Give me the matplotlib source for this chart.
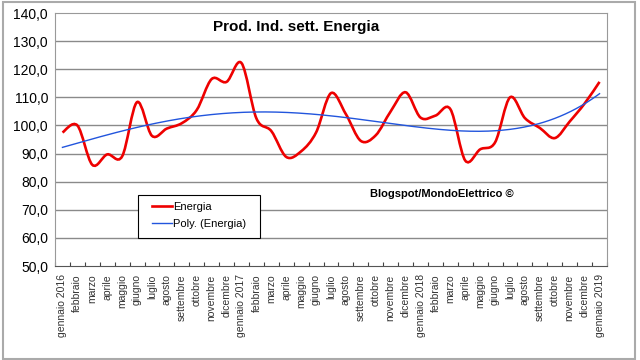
import matplotlib
matplotlib.use("Agg")
import matplotlib.pyplot as plt
import numpy as np
from matplotlib.path import Path
from matplotlib.patches import PathPatch, Rectangle
from matplotlib.lines import Line2D
from matplotlib.ticker import FuncFormatter, FixedLocator

plt.rcParams['font.family'] = ['Liberation Sans', 'DejaVu Sans']

# mesi gen 2016 - gen 2019
mesi = ["gennaio 2016", "febbraio", "marzo", "aprile", "maggio", "giugno",
        "luglio", "agosto", "settembre", "ottobre", "novembre", "dicembre",
        "gennaio 2017", "febbraio", "marzo", "aprile", "maggio", "giugno",
        "luglio", "agosto", "settembre", "ottobre", "novembre", "dicembre",
        "gennaio 2018", "febbraio", "marzo", "aprile", "maggio", "giugno",
        "luglio", "agosto", "settembre", "ottobre", "novembre", "dicembre",
        "gennaio 2019"]
energia = [97.5, 100.0, 86.0, 89.7, 89.0, 108.3, 96.3, 98.9, 100.8, 105.5,
           116.5, 115.5, 122.2, 102.5, 98.0, 88.8, 90.8, 97.5, 111.5, 104.0,
           94.5, 96.5, 105.0, 111.8, 102.8, 103.5, 105.8, 87.5, 91.5, 94.0,
           110.0, 102.6, 99.1, 95.5, 101.4, 107.8, 115.5]
grado_poly = 4

x = np.arange(len(energia))
y = np.array(energia)

fig = plt.figure(figsize=(6.4, 3.6), dpi=100)
ax = fig.add_axes([55/640, 1-266/360, 552/640, 253/360])

# linea smussata tipo excel (bezier per punti)
P = np.column_stack([x, y]).astype(float)
Pe = np.vstack([P[0], P, P[-1]])
verts = [tuple(P[0])]
codes = [Path.MOVETO]
for i in range(len(P) - 1):
    p0, p1, p2, p3 = Pe[i], Pe[i+1], Pe[i+2], Pe[i+3]
    c1 = p1 + (p2 - p0) / 6
    c2 = p2 - (p3 - p1) / 6
    verts += [tuple(c1), tuple(c2), tuple(p2)]
    codes += [Path.CURVE4] * 3
ax.add_patch(PathPatch(Path(verts, codes), facecolor='none', edgecolor='#ee0000', lw=1.9, zorder=3))

# trend polinomiale
coef = np.polyfit(x, y, grado_poly)
xt = np.linspace(0, len(energia)-1, 300)
ax.plot(xt, np.polyval(coef, xt), color='#2255dd', lw=1.0, zorder=4)

ax.set_xlim(-0.5, len(energia)-0.5)
ax.set_ylim(50, 140)
ax.set_yticks(np.arange(50, 141, 10))
ax.yaxis.set_major_formatter(FuncFormatter(lambda v, p: f"{v:.1f}".replace('.', ',')))
ax.tick_params(axis='y', length=0, labelsize=10, pad=5)
for v in range(60, 140, 10):
    ax.axhline(v, color='#8a8a8a', lw=1, zorder=1)

ax.xaxis.set_major_locator(FixedLocator(np.arange(-0.5, len(energia), 1)))
ax.xaxis.set_major_formatter(FuncFormatter(lambda v, p: ""))
ax.xaxis.set_minor_locator(FixedLocator(x))
ax.set_xticklabels(mesi, minor=True, rotation=90, fontsize=7.5, color='#333333')
ax.tick_params(axis='x', which='major', direction='in', length=3, color='#444444')
ax.tick_params(axis='x', which='minor', length=0, pad=6)

for s in ['left', 'top', 'right']:
    ax.spines[s].set_color('#999999')
ax.spines['bottom'].set_color('#555555')

ax.text(0.436, 0.945, "Prod. Ind. sett. Energia", transform=ax.transAxes,
        ha='center', va='center', fontsize=11, fontweight='bold')
ax.text(0.70, 0.285, "Blogspot/MondoElettrico \u00a9", transform=ax.transAxes,
        ha='center', va='center', fontsize=8, fontweight='bold')

# legenda: riquadro disegnato a parte
ax.add_patch(Rectangle((0.1504, 0.1107), 0.221, 0.170, transform=ax.transAxes,
                       facecolor='white', edgecolor='black', lw=0.8, zorder=5))
handles = [Line2D([], [], color='#ee0000', lw=1.9), Line2D([], [], color='#2255dd', lw=1.0)]
leg = ax.legend(handles, ["Energia", "Poly. (Energia)"], loc='upper left',
                bbox_to_anchor=(0.1757, 0.252), fontsize=8, frameon=False,
                handlelength=1.8, handletextpad=0.1, labelspacing=0.6,
                borderpad=0, borderaxespad=0)
leg.set_zorder(6)

fig.patches.append(Rectangle((3/640, 1/360), 632/640, 357/360, transform=fig.transFigure,
                             fill=False, edgecolor='#aaaaaa', lw=1.5))

fig.savefig("out.png", dpi=100)
